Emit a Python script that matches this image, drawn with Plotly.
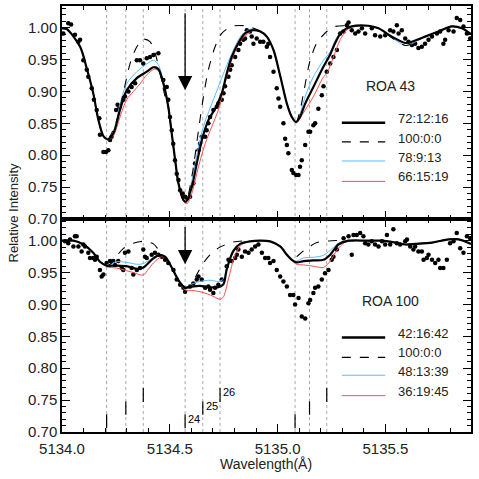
import plotly.graph_objects as go
from plotly.subplots import make_subplots

# ---- data: ROA 43 (upper panel) ----
obs43_x = [5134.006, 5134.029, 5134.042, 5134.060, 5134.076, 5134.084, 5134.099, 5134.115, 5134.122,
           5134.138, 5134.148, 5134.161, 5134.173, 5134.176, 5134.192, 5134.204, 5134.215, 5134.223,
           5134.230, 5134.251, 5134.258, 5134.265, 5134.284, 5134.292, 5134.308, 5134.323, 5134.339,
           5134.347, 5134.362, 5134.377, 5134.393, 5134.408, 5134.424, 5134.447, 5134.470, 5134.486,
           5134.493, 5134.501, 5134.509, 5134.516, 5134.524, 5134.532, 5134.540, 5134.548, 5134.560,
           5134.571, 5134.581, 5134.594,
           5134.609, 5134.617, 5134.633, 5134.640, 5134.648, 5134.664, 5134.671, 5134.679, 5134.687,
           5134.702, 5134.718, 5134.725, 5134.741, 5134.749, 5134.756, 5134.772, 5134.780, 5134.787,
           5134.803, 5134.818, 5134.826, 5134.841, 5134.849, 5134.857, 5134.872, 5134.880, 5134.888,
           5134.903, 5134.919, 5134.934, 5134.950, 5134.957, 5134.965, 5134.981, 5134.996, 5135.004,
           5135.012, 5135.027, 5135.035, 5135.043, 5135.050, 5135.066, 5135.073, 5135.086, 5135.097,
           5135.104, 5135.112, 5135.128, 5135.143, 5135.151, 5135.166, 5135.174, 5135.189, 5135.205,
           5135.213,
           5135.228, 5135.244, 5135.259, 5135.275, 5135.290, 5135.306, 5135.321, 5135.329, 5135.344,
           5135.360, 5135.375, 5135.391, 5135.406, 5135.437, 5135.452, 5135.476, 5135.499, 5135.522,
           5135.537, 5135.553, 5135.561, 5135.576, 5135.592, 5135.607, 5135.623, 5135.638, 5135.653,
           5135.669, 5135.684, 5135.700, 5135.716, 5135.739, 5135.754, 5135.769, 5135.777, 5135.793,
           5135.816, 5135.831, 5135.847, 5135.862, 5135.878, 5135.893]
obs43_y = [0.991, 1.007, 1.005, 0.989, 0.978, 0.981, 0.949, 0.934, 0.923,
           0.905, 0.887, 0.871, 0.858, 0.832, 0.805, 0.805, 0.808, 0.824,
           0.829, 0.871, 0.879, 0.873, 0.887, 0.892, 0.900, 0.907, 0.913,
           0.949, 0.949, 0.944, 0.952, 0.954, 0.957, 0.960, 0.918, 0.907,
           0.887, 0.860, 0.839, 0.818, 0.792, 0.771, 0.761, 0.745, 0.740,
           0.735, 0.732, 0.735,
           0.756, 0.787, 0.808, 0.818, 0.829, 0.829, 0.839, 0.850, 0.860,
           0.871, 0.876, 0.881, 0.887, 0.897, 0.908, 0.923, 0.934, 0.941,
           0.954, 0.965, 0.975, 0.981, 0.983, 0.996, 0.994, 0.986, 0.975,
           0.983, 0.978, 0.978, 0.970, 0.975, 0.954, 0.931, 0.905, 0.889,
           0.876, 0.850, 0.826, 0.816, 0.803, 0.777, 0.772, 0.769, 0.769,
           0.782, 0.792, 0.816, 0.837, 0.837, 0.847, 0.850, 0.873, 0.894,
           0.908,
           0.931, 0.944, 0.954, 0.965, 0.991, 0.994, 1.004, 1.008, 0.996,
           0.991, 0.994, 0.999, 0.991, 0.999, 0.988, 0.986, 0.988, 0.996,
           0.994, 1.004, 0.991, 0.996, 0.983, 0.978, 0.973, 0.975, 0.968,
           0.970, 0.975, 0.981, 0.986, 0.991, 0.994, 0.975, 0.981, 0.996,
           0.994, 1.015, 1.012, 1.002, 0.991, 0.983]

# model 72:12:16
m43a_x = [5134.000, 5134.022, 5134.084, 5134.115, 5134.145, 5134.169, 5134.192, 5134.212, 5134.238,
          5134.269, 5134.300, 5134.347, 5134.393, 5134.424, 5134.447, 5134.470, 5134.493, 5134.509,
          5134.525, 5134.540, 5134.563, 5134.575, 5134.602, 5134.625, 5134.649, 5134.679, 5134.710,
          5134.741, 5134.764, 5134.787, 5134.818, 5134.849, 5134.880, 5134.920, 5134.950, 5134.981,
          5135.013, 5135.043, 5135.066, 5135.086, 5135.104, 5135.128, 5135.166, 5135.213, 5135.244,
          5135.267, 5135.298, 5135.344, 5135.421, 5135.468, 5135.530, 5135.592, 5135.623, 5135.684,
          5135.746, 5135.808, 5135.855, 5135.897]
m43a_y = [0.999, 0.998, 0.970, 0.936, 0.897, 0.855, 0.830, 0.825, 0.834,
          0.871, 0.902, 0.921, 0.931, 0.938, 0.935, 0.913, 0.876, 0.834,
          0.792, 0.756, 0.730, 0.727, 0.750, 0.787, 0.824, 0.855, 0.873,
          0.897, 0.928, 0.954, 0.976, 0.991, 0.996, 0.994, 0.986, 0.965,
          0.923, 0.881, 0.860, 0.852, 0.860, 0.881, 0.907, 0.939, 0.958,
          0.976, 0.994, 1.002, 1.003, 0.999, 0.986, 0.976, 0.978, 0.986,
          0.994, 1.002, 0.999, 0.990]

# model 100:0:0
m43b_x = [5134.000, 5134.022, 5134.084, 5134.115, 5134.145, 5134.169, 5134.192, 5134.212, 5134.254,
          5134.284, 5134.316, 5134.347, 5134.377, 5134.408, 5134.432, 5134.455, 5134.478, 5134.493,
          5134.509, 5134.525, 5134.540, 5134.563, 5134.575, 5134.602, 5134.633, 5134.656, 5134.679,
          5134.710, 5134.741, 5134.787, 5134.849, 5134.904, 5134.950, 5134.981, 5135.013, 5135.043,
          5135.066, 5135.086, 5135.104, 5135.120, 5135.151, 5135.182, 5135.228, 5135.267, 5135.344,
          5135.421, 5135.468, 5135.530, 5135.592, 5135.623, 5135.684, 5135.746, 5135.808, 5135.855,
          5135.897]
m43b_y = [0.999, 0.998, 0.970, 0.936, 0.897, 0.855, 0.830, 0.825, 0.855,
          0.897, 0.944, 0.970, 0.982, 0.978, 0.960, 0.928, 0.892, 0.876,
          0.834, 0.792, 0.756, 0.730, 0.727, 0.766, 0.839, 0.892, 0.934,
          0.970, 0.991, 1.002, 1.003, 0.997, 0.986, 0.965, 0.923, 0.881,
          0.860, 0.852, 0.870, 0.897, 0.949, 0.976, 0.994, 1.002, 1.003,
          1.003, 0.999, 0.984, 0.972, 0.975, 0.986, 0.994, 1.002, 0.999,
          0.990]

# model 78:9:13
m43c_x = [5134.000, 5134.022, 5134.084, 5134.115, 5134.145, 5134.169, 5134.192, 5134.212, 5134.238,
          5134.269, 5134.300, 5134.347, 5134.393, 5134.424, 5134.447, 5134.470, 5134.493, 5134.509,
          5134.525, 5134.540, 5134.563, 5134.575, 5134.602, 5134.633, 5134.656, 5134.695, 5134.725,
          5134.756, 5134.795, 5134.834, 5134.880, 5134.920, 5134.950, 5134.981, 5135.013, 5135.043,
          5135.066, 5135.086, 5135.104, 5135.128, 5135.166, 5135.213, 5135.244, 5135.267, 5135.298,
          5135.344, 5135.421, 5135.468, 5135.530, 5135.592, 5135.623, 5135.684, 5135.746, 5135.808,
          5135.855, 5135.897]
m43c_y = [0.999, 0.998, 0.970, 0.936, 0.897, 0.855, 0.830, 0.825, 0.836,
          0.880, 0.912, 0.931, 0.943, 0.949, 0.942, 0.915, 0.876, 0.834,
          0.792, 0.756, 0.730, 0.727, 0.760, 0.813, 0.845, 0.881, 0.907,
          0.934, 0.965, 0.989, 0.998, 0.995, 0.986, 0.965, 0.923, 0.881,
          0.860, 0.852, 0.865, 0.892, 0.923, 0.949, 0.962, 0.980, 0.995,
          1.002, 1.003, 0.999, 0.984, 0.972, 0.975, 0.986, 0.994, 1.002,
          0.999, 0.990]

# model 66:15:19
m43d_x = [5134.000, 5134.022, 5134.084, 5134.115, 5134.145, 5134.169, 5134.192, 5134.212, 5134.238,
          5134.269, 5134.300, 5134.331, 5134.362, 5134.393, 5134.430, 5134.455, 5134.475, 5134.493,
          5134.509, 5134.525, 5134.540, 5134.563, 5134.580, 5134.602, 5134.633, 5134.664, 5134.695,
          5134.725, 5134.756, 5134.787, 5134.826, 5134.880, 5134.920, 5134.950, 5134.981, 5135.013,
          5135.043, 5135.066, 5135.086, 5135.104, 5135.128, 5135.166, 5135.213, 5135.228, 5135.259,
          5135.290, 5135.320, 5135.344, 5135.421, 5135.468, 5135.530, 5135.592, 5135.623, 5135.684,
          5135.746, 5135.808, 5135.855, 5135.897]
m43d_y = [0.999, 0.998, 0.970, 0.936, 0.897, 0.855, 0.829, 0.824, 0.830,
          0.860, 0.887, 0.900, 0.912, 0.926, 0.935, 0.930, 0.905, 0.872,
          0.832, 0.790, 0.754, 0.728, 0.724, 0.740, 0.782, 0.818, 0.845,
          0.871, 0.913, 0.949, 0.978, 0.995, 0.994, 0.986, 0.965, 0.923,
          0.881, 0.860, 0.851, 0.858, 0.871, 0.892, 0.923, 0.928, 0.954,
          0.981, 0.996, 1.001, 1.003, 0.999, 0.986, 0.976, 0.978, 0.986,
          0.994, 1.002, 0.999, 0.990]

# ---- data: ROA 100 (lower panel) ----
obs100_x = [5134.014, 5134.029, 5134.037, 5134.053, 5134.060, 5134.068, 5134.076, 5134.091, 5134.099,
            5134.107, 5134.122, 5134.130, 5134.145, 5134.153, 5134.161, 5134.176, 5134.184, 5134.192,
            5134.207, 5134.223, 5134.238, 5134.246, 5134.261, 5134.277, 5134.284, 5134.292, 5134.308,
            5134.323, 5134.331, 5134.347, 5134.362, 5134.377, 5134.385, 5134.393, 5134.416, 5134.431,
            5134.447, 5134.463, 5134.478, 5134.493, 5134.517, 5134.532, 5134.548, 5134.563, 5134.571,
            5134.594, 5134.609, 5134.625,
            5134.633, 5134.648, 5134.664, 5134.679, 5134.687, 5134.702, 5134.710, 5134.725, 5134.741,
            5134.764, 5134.772, 5134.787, 5134.803, 5134.811, 5134.818, 5134.834, 5134.849, 5134.865,
            5134.880, 5134.896, 5134.911, 5134.927, 5134.942, 5134.957, 5134.965, 5134.981, 5134.996,
            5135.012, 5135.027, 5135.043, 5135.058, 5135.073, 5135.081, 5135.097, 5135.112, 5135.128,
            5135.143, 5135.151, 5135.166, 5135.174, 5135.189, 5135.205, 5135.220, 5135.236,
            5135.251, 5135.259, 5135.275, 5135.306, 5135.329, 5135.344, 5135.352, 5135.367, 5135.383,
            5135.398, 5135.406, 5135.421, 5135.437, 5135.452, 5135.468, 5135.484, 5135.499, 5135.507,
            5135.522, 5135.537, 5135.553, 5135.568, 5135.592, 5135.600, 5135.615, 5135.630, 5135.638,
            5135.653, 5135.669, 5135.677, 5135.692, 5135.700, 5135.716, 5135.731, 5135.746, 5135.754,
            5135.769, 5135.785, 5135.800, 5135.816, 5135.831, 5135.847, 5135.862, 5135.878, 5135.893]
obs100_y = [0.999, 0.996, 1.002, 0.991, 1.007, 1.007, 0.991, 0.983, 0.994,
            0.991, 0.981, 0.973, 0.973, 0.970, 0.975, 0.954, 0.944, 0.947,
            0.965, 0.968, 0.968, 0.962, 0.968, 0.957, 0.954, 0.981, 0.983,
            0.957, 0.947, 0.954, 0.957, 0.986, 0.975, 0.973, 0.978, 0.981,
            0.978, 0.975, 0.970, 0.965, 0.954, 0.939, 0.931, 0.926, 0.920,
            0.928, 0.933, 0.939,
            0.944, 0.939, 0.926, 0.928, 0.923, 0.918, 0.926, 0.931, 0.939,
            0.960, 0.970, 0.968, 0.973, 0.978, 0.986, 0.975, 0.983, 0.981,
            0.986, 0.991, 0.994, 0.981, 0.973, 0.973, 0.965, 0.968, 0.954,
            0.944, 0.936, 0.928, 0.915, 0.915, 0.900, 0.910, 0.881, 0.878,
            0.902, 0.907, 0.918, 0.926, 0.928, 0.939, 0.949, 0.954,
            0.970, 0.975, 0.986, 1.004, 1.007, 0.978, 1.009, 1.009, 1.012,
            1.007, 0.996, 0.994, 0.999, 0.994, 0.991, 0.999, 0.994, 1.009,
            0.994, 1.018, 0.996, 0.994, 0.999, 1.002, 0.991, 0.986, 0.991,
            0.983, 0.983, 0.970, 0.973, 0.978, 0.970, 0.965, 0.970, 0.957,
            0.957, 0.970, 0.996, 0.999, 1.012, 0.988, 0.981, 1.007, 1.004]

# model 42:16:42
m100a_x = [5134.000, 5134.053, 5134.099, 5134.145, 5134.176, 5134.207, 5134.254, 5134.300, 5134.347,
           5134.377, 5134.416, 5134.447, 5134.478, 5134.509, 5134.540, 5134.571, 5134.602, 5134.640,
           5134.687, 5134.725, 5134.749, 5134.764, 5134.795, 5134.826, 5134.872, 5134.919, 5134.965,
           5135.012, 5135.043, 5135.066, 5135.089, 5135.120, 5135.166, 5135.213, 5135.244, 5135.282,
           5135.329, 5135.421, 5135.484, 5135.545, 5135.592, 5135.638, 5135.716, 5135.793, 5135.839,
           5135.897]
m100a_y = [1.000, 1.000, 0.994, 0.981, 0.967, 0.961, 0.961, 0.960, 0.956,
           0.958, 0.970, 0.977, 0.975, 0.958, 0.938, 0.926, 0.928, 0.929,
           0.927, 0.927, 0.932, 0.955, 0.984, 0.995, 0.999, 1.000, 0.999,
           0.991, 0.978, 0.970, 0.966, 0.968, 0.969, 0.970, 0.978, 0.994,
           1.000, 1.000, 1.000, 0.997, 0.994, 0.995, 0.997, 1.002, 1.002,
           0.995]

# model 100:0:0
m100b_x = [5134.000, 5134.053, 5134.099, 5134.145, 5134.176, 5134.207, 5134.230, 5134.254, 5134.285,
           5134.331, 5134.377, 5134.424, 5134.447, 5134.478, 5134.509, 5134.540, 5134.571, 5134.602,
           5134.625, 5134.656, 5134.687, 5134.733, 5134.795, 5134.872, 5134.965, 5135.012, 5135.043,
           5135.066, 5135.089, 5135.120, 5135.150, 5135.182, 5135.250, 5135.329, 5135.421, 5135.484,
           5135.545, 5135.592, 5135.638, 5135.716, 5135.793, 5135.839, 5135.897]
m100b_y = [1.000, 1.000, 0.994, 0.981, 0.967, 0.960, 0.965, 0.976, 0.988,
           0.996, 0.999, 0.995, 0.986, 0.973, 0.957, 0.938, 0.927, 0.932,
           0.947, 0.965, 0.978, 0.990, 0.998, 1.000, 0.999, 0.991, 0.978,
           0.970, 0.975, 0.984, 0.991, 0.997, 1.000, 1.000, 1.000, 1.000,
           0.997, 0.994, 0.995, 0.997, 1.002, 1.002, 0.995]

# model 48:13:39
m100c_x = [5134.000, 5134.053, 5134.099, 5134.145, 5134.176, 5134.207, 5134.254, 5134.300, 5134.347,
           5134.377, 5134.416, 5134.447, 5134.478, 5134.509, 5134.540, 5134.571, 5134.602, 5134.640,
           5134.687, 5134.725, 5134.749, 5134.764, 5134.795, 5134.826, 5134.872, 5134.919, 5134.965,
           5135.012, 5135.043, 5135.066, 5135.089, 5135.120, 5135.166, 5135.213, 5135.244, 5135.282,
           5135.329, 5135.421, 5135.484, 5135.545, 5135.592, 5135.638, 5135.716, 5135.793, 5135.839,
           5135.897]
m100c_y = [1.000, 1.000, 0.994, 0.981, 0.967, 0.962, 0.967, 0.966, 0.963,
           0.964, 0.972, 0.978, 0.975, 0.958, 0.938, 0.927, 0.932, 0.936,
           0.938, 0.936, 0.940, 0.958, 0.985, 0.995, 0.999, 1.000, 0.999,
           0.991, 0.978, 0.970, 0.968, 0.973, 0.974, 0.977, 0.985, 0.996,
           1.000, 1.000, 1.000, 0.997, 0.994, 0.995, 0.997, 1.002, 1.002,
           0.995]

# model 36:19:45
m100d_x = [5134.000, 5134.053, 5134.099, 5134.145, 5134.176, 5134.207, 5134.254, 5134.300, 5134.331,
           5134.377, 5134.400, 5134.424, 5134.463, 5134.490, 5134.520, 5134.571, 5134.602, 5134.640,
           5134.687, 5134.733, 5134.749, 5134.772, 5134.803, 5134.834, 5134.872, 5134.919, 5134.965,
           5135.012, 5135.043, 5135.066, 5135.089, 5135.120, 5135.166, 5135.213, 5135.244, 5135.275,
           5135.310, 5135.350, 5135.421, 5135.484, 5135.545, 5135.592, 5135.638, 5135.716, 5135.793,
           5135.839, 5135.897]
m100d_y = [1.000, 1.000, 0.994, 0.981, 0.967, 0.959, 0.957, 0.953, 0.950,
           0.946, 0.955, 0.965, 0.975, 0.970, 0.950, 0.923, 0.922, 0.920,
           0.915, 0.908, 0.912, 0.940, 0.978, 0.994, 0.999, 1.000, 0.999,
           0.991, 0.978, 0.969, 0.963, 0.962, 0.960, 0.958, 0.968, 0.985,
           0.997, 1.000, 1.000, 1.000, 0.997, 0.994, 0.995, 0.997, 1.002,
           1.002, 0.995]

# line positions (dotted) and line-id ticks
line_x = [5134.207, 5134.296, 5134.377, 5134.571, 5134.653, 5134.733, 5135.081, 5135.148, 5135.228]
tick_lo = [0.706, 0.727, 0.747, 0.706, 0.727, 0.747, 0.706, 0.727, 0.747]
tick_hi = [0.728, 0.748, 0.769, 0.728, 0.748, 0.769, 0.728, 0.748, 0.769]
tick_lab = {3: "24", 4: "25", 5: "26"}

legend43 = ["72:12:16", "100:0:0", "78:9:13", "66:15:19"]
legend100 = ["42:16:42", "100:0:0", "48:13:39", "36:19:45"]

BLUE = "#5cbcff"
RED = "#ff4d4d"
styles = [dict(color="black", width=2.2), dict(color="black", width=1.1, dash="dash"),
          dict(color=BLUE, width=1.0), dict(color=RED, width=1.0)]

fig = make_subplots(rows=2, cols=1, shared_xaxes=True, vertical_spacing=0)

panels = [
    (1, obs43_x, obs43_y, [(m43a_x, m43a_y), (m43b_x, m43b_y), (m43c_x, m43c_y), (m43d_x, m43d_y)]),
    (2, obs100_x, obs100_y, [(m100a_x, m100a_y), (m100b_x, m100b_y), (m100c_x, m100c_y), (m100d_x, m100d_y)]),
]
# draw thin lines first, black model on top
order = [3, 2, 1, 0]
for row, ox, oy, models in panels:
    fig.add_trace(go.Scatter(x=ox, y=oy, mode="markers", marker=dict(color="black", size=4.5),
                             showlegend=False, hoverinfo="skip"), row=row, col=1)
    for i in order:
        mx, my = models[i]
        fig.add_trace(go.Scatter(x=mx, y=my, mode="lines", line=dict(shape="spline", smoothing=0.8, **styles[i]),
                                 showlegend=False, hoverinfo="skip"), row=row, col=1)

# line identification ticks (lower panel)
tx, ty = [], []
for x, lo, hi in zip(line_x, tick_lo, tick_hi):
    tx += [x, x, None]
    ty += [lo, hi, None]
fig.add_trace(go.Scatter(x=tx, y=ty, mode="lines", line=dict(color="black", width=1.2),
                         showlegend=False, hoverinfo="skip"), row=2, col=1)
for i, lab in tick_lab.items():
    fig.add_annotation(x=line_x[i], y=tick_hi[i] - 0.007, text=lab, showarrow=False, xanchor="left",
                       xshift=1, font=dict(size=11, color="black"), row=2, col=1)

# dotted vertical lines through both panels
for x in line_x:
    fig.add_shape(type="line", xref="x", yref="paper", x0=x, x1=x, y0=0, y1=1,
                  line=dict(color="#aaaaaa", width=1, dash="dot"), layer="below")

# arrows marking the line of interest
fig.add_annotation(x=line_x[3], y=0.902, ax=line_x[3], ay=1.025, axref="x", ayref="y", xref="x", yref="y",
                   text="", showarrow=True, arrowhead=2, arrowsize=2.2, arrowwidth=1.3, arrowcolor="black")
fig.add_annotation(x=line_x[3], y=0.963, ax=line_x[3], ay=1.024, axref="x2", ayref="y2", xref="x2", yref="y2",
                   text="", showarrow=True, arrowhead=2, arrowsize=2.2, arrowwidth=1.3, arrowcolor="black")

# in-panel legends
leg_x0, leg_x1, leg_tx = 5135.298, 5135.499, 5135.548
rows_info = [
    ("x", "y", "ROA 43", 0.908, legend43, [0.851, 0.821, 0.791, 0.759], [0.858, 0.827, 0.797, 0.766]),
    ("x2", "y2", "ROA 100", 0.906, legend100, [0.848, 0.817, 0.789, 0.757], [0.855, 0.824, 0.795, 0.763]),
]
for xr, yr, title, ty0, labels, ly, lt in rows_info:
    fig.add_annotation(x=5135.525, y=ty0, xref=xr, yref=yr, text=title, showarrow=False,
                       font=dict(size=14, color="#222"))
    for i, lab in enumerate(labels):
        st = styles[i]
        fig.add_shape(type="line", xref=xr, yref=yr, x0=leg_x0, x1=leg_x1, y0=ly[i], y1=ly[i],
                      line=dict(color=st["color"], width=st["width"] + (0.3 if i == 0 else 0),
                                dash=st.get("dash", "solid")))
        fig.add_annotation(x=leg_tx, y=lt[i], xref=xr, yref=yr, text=lab, showarrow=False, xanchor="left",
                           font=dict(size=13, color="#222"))

axis_common = dict(showline=True, linecolor="black", linewidth=1.5, mirror="allticks", ticks="inside",
                   ticklen=8, tickcolor="black", showgrid=False, zeroline=False, automargin=False)
fig.update_xaxes(range=[5134.0, 5135.897], tickvals=[5134.0, 5134.5, 5135.0, 5135.5],
                 ticktext=["5134.0", "5134.5", "5135.0", "5135.5"],
                 minor=dict(dtick=0.1, tick0=5134.0, ticks="inside", ticklen=4, tickcolor="black"),
                 **axis_common)
fig.update_xaxes(showticklabels=False, row=1, col=1)
fig.update_xaxes(tickfont=dict(size=15, color="#222", family="Liberation Sans"), ticklabelstandoff=2, row=2, col=1)
fig.update_yaxes(range=[0.70, 1.034], tickvals=[0.70, 0.75, 0.80, 0.85, 0.90, 0.95, 1.00], tickformat=".2f",
                 minor=dict(dtick=0.01, tick0=0.70, ticks="inside", ticklen=4, tickcolor="black"),
                 tickfont=dict(size=15, color="#222", family="Liberation Sans"), **axis_common)

fig.add_annotation(text="Relative Intensity", xref="paper", yref="paper", x=-0.142, y=0.514, textangle=-90,
                   showarrow=False, font=dict(size=13, color="#222"))
fig.add_annotation(text="Wavelength(Å)", xref="paper", yref="paper", x=0.499, y=-0.074, yanchor="middle",
                   showarrow=False, font=dict(size=14, color="#222"))

fig.update_layout(width=479, height=479, margin=dict(l=62, r=8, t=6, b=47),
                  paper_bgcolor="white", plot_bgcolor="white",
                  font=dict(family="Liberation Sans", color="#222"), showlegend=False)

# remove the default page margin so the figure sits at the window origin
fig.write_html("out.html", config={"displayModeBar": False},
               post_script="document.body.style.margin='0';")
